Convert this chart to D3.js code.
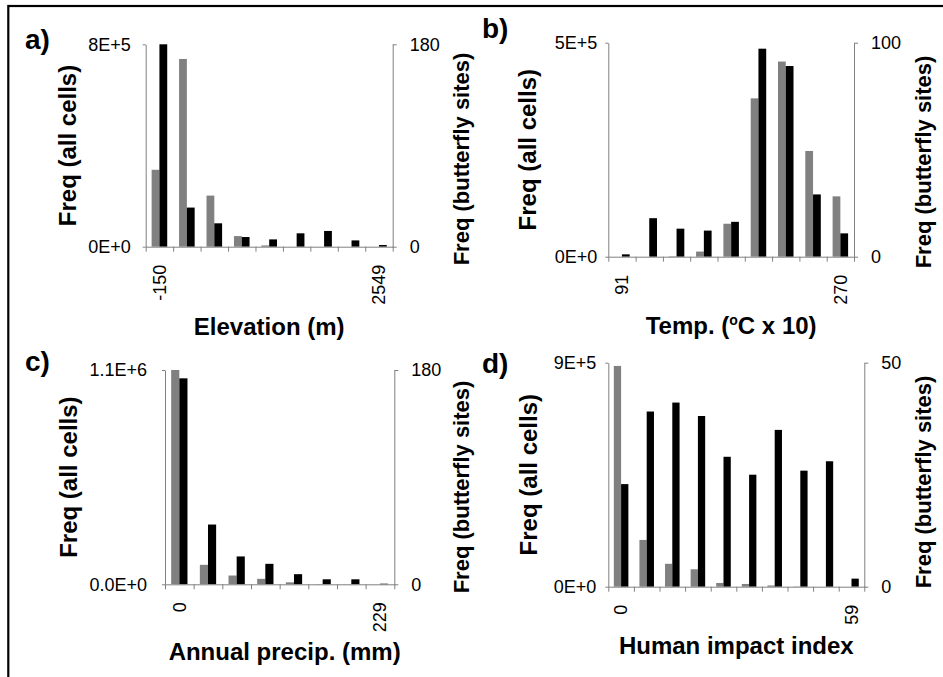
<!DOCTYPE html>
<html>
<head>
<meta charset="utf-8">
<script src="https://cdn.jsdelivr.net/npm/d3@7"></script>
<style>
  html, body { margin: 0; padding: 0; background: #fff; }
  svg { display: block; }
  text { font-family: "Liberation Sans", Arial, sans-serif; fill: #000; }
</style>
</head>
<body>
<svg id="chart" width="943" height="677"></svg>
<script>
// ---------- DATA ----------
// a) Elevation (m)
const elevLabels = ["-150", "", "", "", "", "", "", "", "2549"];
const elevAll = [3.04e5, 7.42e5, 2.02e5, 4.2e4, 5e3, 0, 0, 0, 0];
const elevButterfly = [180, 34.8, 20.8, 8.6, 6.5, 11.9, 14, 5.6, 1.5];
const elevLeftTicks = [0, 8e5];
const elevLeftTickLabels = ["0E+0", "8E+5"];
const elevRightTicks = [0, 180];
const elevRightTickLabels = ["0", "180"];

// b) Temperature (oC x 10)
const tempLabels = ["91", "", "", "", "", "", "", "", "270"];
const tempAll = [0, 0, 1e3, 1.2e4, 7.7e4, 3.7e5, 4.56e5, 2.47e5, 1.41e5];
const tempButterfly = [1.1, 18, 13.1, 12.2, 16.3, 97.2, 89.1, 29.1, 10.9];
const tempLeftTicks = [0, 5e5];
const tempLeftTickLabels = ["0E+0", "5E+5"];
const tempRightTicks = [0, 100];
const tempRightTickLabels = ["0", "100"];

// c) Annual precipitation (mm)
const precipLabels = ["0", "", "", "", "", "", "", "229"];
const precipAll = [1.1e6, 1.0e5, 4.5e4, 2.8e4, 1.0e4, 1e3, 500, 0];
const precipButterfly = [173, 50.2, 23.4, 17.2, 8.5, 4.2, 4.2, 0.5];
const precipLeftTicks = [0, 1.1e6];
const precipLeftTickLabels = ["0.0E+0", "1.1E+6"];
const precipRightTicks = [0, 180];
const precipRightTickLabels = ["0", "180"];

// d) Human impact index
const humanLabels = ["0", "", "", "", "", "", "", "", "", "59"];
const humanAll = [8.87e5, 1.88e5, 9.2e4, 7.0e4, 1.5e4, 1.1e4, 5e3, 1e3, 0, 0];
const humanButterfly = [22.9, 39.1, 41.1, 38.1, 29.0, 25.0, 35.0, 25.9, 28.0, 1.8];
const humanLeftTicks = [0, 9e5];
const humanLeftTickLabels = ["0E+0", "9E+5"];
const humanRightTicks = [0, 50];
const humanRightTickLabels = ["0", "50"];

const series = ["all", "butterfly"];
const seriesColors = { all: "#808080", butterfly: "#000000" };

// ---------- LAYOUT ----------
const svg = d3.select("#chart");
svg.append("rect").attr("x", 0).attr("y", 0).attr("width", 943).attr("height", 677).attr("fill", "#fff");
svg.append("rect")
  .attr("x", 8.3).attr("y", 6).attr("width", 1200).attr("height", 900)
  .attr("fill", "none").attr("stroke", "#000").attr("stroke-width", 2.2);

const axisColor = "#808080";

const panels = [
  { tag: "a)", tagX: 25, tagY: 49,
    left: 145.7, right: 392.7, top: 44.3, bottom: 246.7,
    labels: elevLabels, all: elevAll, bf: elevButterfly,
    lt: elevLeftTicks, ltl: elevLeftTickLabels, rt: elevRightTicks, rtl: elevRightTickLabels,
    lPad: 12, xTitle: "Elevation (m)", xTitleY: 335,
    lTitleX: 75.5, rTitleX: 469, rTitleY: 159 },
  { tag: "b)", tagX: 482, tagY: 38,
    left: 608.3, right: 854, top: 42.7, bottom: 256.7,
    labels: tempLabels, all: tempAll, bf: tempButterfly,
    lt: tempLeftTicks, ltl: tempLeftTickLabels, rt: tempRightTicks, rtl: tempRightTickLabels,
    lPad: 8, xTitle: null, xTitleY: 334,
    lTitleX: 535.5, rTitleX: 930.5, rTitleY: 162 },
  { tag: "c)", tagX: 25, tagY: 371,
    left: 165, right: 394.3, top: 370, bottom: 584.3,
    labels: precipLabels, all: precipAll, bf: precipButterfly,
    lt: precipLeftTicks, ltl: precipLeftTickLabels, rt: precipRightTicks, rtl: precipRightTickLabels,
    lPad: 15, xTitle: "Annual precip. (mm)", xTitleY: 660, xTitleDX: 5,
    lTitleX: 77.2, rTitleX: 469, rTitleY: 487 },
  { tag: "d)", tagX: 482, tagY: 373,
    left: 608.3, right: 864.3, top: 362.7, bottom: 586.7,
    labels: humanLabels, all: humanAll, bf: humanButterfly,
    lt: humanLeftTicks, ltl: humanLeftTickLabels, rt: humanRightTicks, rtl: humanRightTickLabels,
    lPad: 9, xTitle: "Human impact index", xTitleY: 654,
    lTitleX: 537.2, rTitleX: 930.5, rTitleY: 482 }
];

function drawPanel(p) {
  const g = svg.append("g");
  const n = p.all.length;
  const x0 = d3.scaleBand().domain(d3.range(n)).range([p.left, p.right]).padding(0);
  const x1 = d3.scaleBand().domain(series).range([0, x0.bandwidth()]).paddingInner(0).paddingOuter(0.76);
  const xIdx = d3.scaleLinear().domain([0, n]).range([p.left, p.right]);
  const yL = d3.scaleLinear().domain([0, p.lt[1]]).range([p.bottom, p.top]);
  const yR = d3.scaleLinear().domain([0, p.rt[1]]).range([p.bottom, p.top]);

  const rows = d3.range(n).map(i => ({ i, all: p.all[i], butterfly: p.bf[i] }));

  // bars
  const grp = g.append("g").selectAll("g").data(rows).join("g")
    .attr("transform", d => `translate(${x0(d.i)},0)`);
  grp.append("rect")
    .attr("x", x1("all")).attr("width", x1.bandwidth())
    .attr("y", d => yL(d.all)).attr("height", d => p.bottom - yL(d.all))
    .attr("fill", seriesColors.all);
  grp.append("rect")
    .attr("x", x1("butterfly")).attr("width", x1.bandwidth())
    .attr("y", d => yR(d.butterfly)).attr("height", d => p.bottom - yR(d.butterfly))
    .attr("fill", seriesColors.butterfly);

  // left axis
  const la = g.append("g").attr("transform", `translate(${p.left},0)`)
    .call(d3.axisLeft(yL).tickValues(p.lt).tickSize(3).tickSizeOuter(0).tickPadding(p.lPad)
      .tickFormat((d, i) => p.ltl[i]));
  // right axis
  const ra = g.append("g").attr("transform", `translate(${p.right},0)`)
    .call(d3.axisRight(yR).tickValues(p.rt).tickSize(4).tickSizeOuter(0).tickPadding(13)
      .tickFormat((d, i) => p.rtl[i]));
  // bottom axis: ticks at category boundaries
  const ba = g.append("g").attr("transform", `translate(0,${p.bottom})`)
    .call(d3.axisBottom(xIdx).tickValues(d3.range(n + 1)).tickSize(5).tickSizeOuter(0).tickFormat(""));
  // category labels (rotated)
  const ca = g.append("g").attr("transform", `translate(0,${p.bottom})`)
    .call(d3.axisBottom(x0).tickSize(0).tickFormat(i => p.labels[i]));
  ca.select(".domain").remove();
  ca.selectAll("text")
    .attr("transform", "rotate(-90)")
    .attr("x", -18).attr("y", 0).attr("dy", "0.35em")
    .attr("text-anchor", "end");

  [la, ra, ba, ca].forEach(a => {
    a.attr("font-family", null).attr("font-size", null);
    a.selectAll("path.domain").attr("stroke", axisColor).attr("stroke-width", 1);
    a.selectAll(".tick line").attr("stroke", axisColor).attr("stroke-width", 1);
    a.selectAll("text").style("font-size", "18px").style("font-family", '"Liberation Sans", Arial, sans-serif').attr("fill", "#000");
  });

  // titles
  g.append("text")
    .attr("transform", `translate(${p.lTitleX},${(p.top + p.bottom) / 2}) rotate(-90)`)
    .attr("text-anchor", "middle").style("font-size", "24px").style("font-weight", "bold")
    .text("Freq (all cells)");
  g.append("text")
    .attr("transform", `translate(${p.rTitleX},${p.rTitleY}) rotate(-90)`)
    .attr("text-anchor", "middle").style("font-size", "22px").style("font-weight", "bold")
    .text("Freq (butterfly sites)");

  const xt = g.append("text")
    .attr("x", (p.left + p.right) / 2 + (p.xTitleDX || 0)).attr("y", p.xTitleY)
    .attr("text-anchor", "middle").style("font-size", "24px").style("font-weight", "bold");
  if (p.xTitle) {
    xt.text(p.xTitle);
  } else {
    xt.append("tspan").text("Temp. (");
    xt.append("tspan").attr("dy", -9).style("font-size", "14px").text("o");
    xt.append("tspan").attr("dy", 9).text("C x 10)");
  }

  // panel tag
  g.append("text").attr("x", p.tagX).attr("y", p.tagY)
    .style("font-size", "28px").style("font-weight", "bold").text(p.tag);
}

panels.forEach(drawPanel);
</script>
</body>
</html>
